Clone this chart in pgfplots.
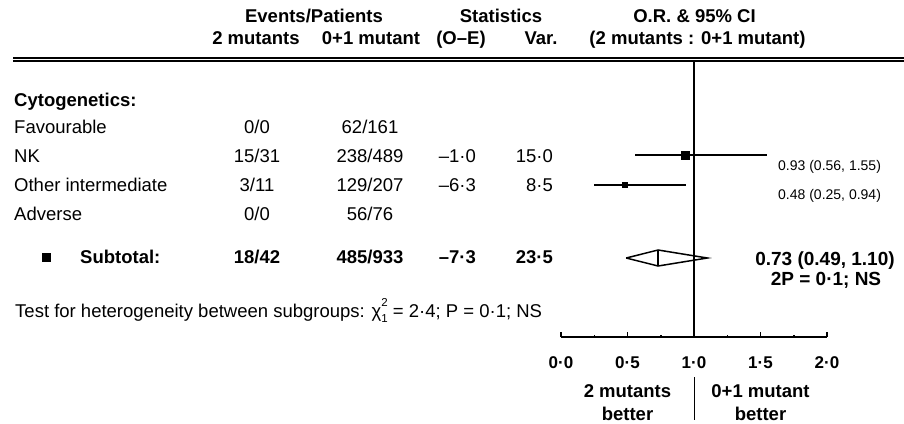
\documentclass[border=0pt]{standalone}
\usepackage{fontspec}
\setmainfont{Liberation Sans}
\usepackage{pgfplots}
\pgfplotsset{compat=1.18}

\newcommand\bodyfont{\fontsize{18.5}{22}\selectfont}
\newcommand\cifont{\fontsize{14}{16}\selectfont}
\newcommand\sumfont{\fontsize{19}{22}\selectfont\bfseries}
\newcommand\supfont{\fontsize{11.5}{12}\selectfont}

\begin{document}
\begin{tikzpicture}[
  L/.style={inner sep=0pt, anchor=base west, font=\bodyfont},
  C/.style={inner sep=0pt, anchor=base, font=\bodyfont},
  R/.style={inner sep=0pt, anchor=base east, font=\bodyfont},
  B/.style={font=\bodyfont\bfseries}]
\useasboundingbox (0pt,0pt) rectangle (904pt,-423pt);
\clip (0pt,0pt) rectangle (904pt,-423pt);

\begin{scope}[x=1pt,y=1pt]
% column headings
\node[C,B] at (314,-23) {Events/Patients};
\node[C,B] at (501,-23) {Statistics};
\node[C,B] at (694.5,-23) {O.R. \& 95\% CI};
\node[C,B] at (256,-44) {2 mutants};
\node[C,B] at (371,-44) {0+1 mutant};
\node[C,B] at (461,-44) {(O–E)};
\node[C,B] at (541,-44) {Var.};
\node[C,B] at (697.5,-44) {(2 mutants : 0+1 mutant)};
\draw[line width=2.3pt] (13,-57.8) -- (904,-57.8);
\draw[line width=1.6pt] (13,-61.2) -- (904,-61.2);

% table body
\node[L,B] at (14,-106) {Cytogenetics:};
\node[L] at (14,-133) {Favourable};
\node[L] at (14,-162) {NK};
\node[L] at (14,-191) {Other intermediate};
\node[L] at (14,-220) {Adverse};

\node[C] at (257,-133) {0/0};
\node[C] at (257,-162) {15/31};
\node[C] at (257,-191) {3/11};
\node[C] at (257,-220) {0/0};

\node[C] at (370,-133) {62/161};
\node[C] at (370,-162) {238/489};
\node[C] at (370,-191) {129/207};
\node[C] at (370,-220) {56/76};

\node[R] at (476,-162) {–1·0};
\node[R] at (476,-191) {–6·3};
\node[R] at (553,-162) {15·0};
\node[R] at (553,-191) {8·5};

\fill (42,-253) rectangle (51,-262);
\node[L,B] at (80,-263) {Subtotal:};
\node[C,B] at (257,-263) {18/42};
\node[C,B] at (370,-263) {485/933};
\node[R,B] at (476,-263) {–7·3};
\node[R,B] at (553,-263) {23·5};

\node[L] at (15,-317) {Test for heterogeneity between subgroups:
  χ\rlap{\raisebox{0.55em}{\supfont 2}}\raisebox{-0.3em}{\supfont 1} = 2·4; P = 0·1; NS};

% estimates
\node[L, font=\cifont] at (778,-170) {0.93 (0.56, 1.55)};
\node[L, font=\cifont] at (778,-199) {0.48 (0.25, 0.94)};
\node[C, font=\sumfont] at (825,-265) {0.73 (0.49, 1.10)};
\node[C, font=\sumfont] at (826,-285) {2P = 0·1; NS};
\end{scope}

% forest plot
\begin{axis}[at={(561pt,-423pt)}, anchor=south west, scale only axis,
  width=266pt, height=423pt, xmin=0, xmax=2, ymin=-423, ymax=0,
  axis lines=none, clip=false]
  % pooled diamond
  \addplot[black, line width=1.5pt, line join=miter] coordinates
    {(0.49,-258) (0.73,-250) (1.10,-258) (0.73,-266) (0.49,-258)};
  \addplot[black, line width=1.5pt] coordinates {(0.73,-250) (0.73,-266)};
  % subgroup estimates with 95% CI
  \addplot[black, only marks, mark=square*, mark size=4pt,
    error bars/.cd, x dir=both, x explicit, error mark=none,
    error bar style={line width=2pt}]
    coordinates {(0.93,-155) -= (0.37,0) += (0.62,0)};
  \addplot[black, only marks, mark=square*, mark size=2.5pt,
    error bars/.cd, x dir=both, x explicit, error mark=none,
    error bar style={line width=2pt}]
    coordinates {(0.48,-184.5) -= (0.23,0) += (0.46,0)};
  % line of no effect
  \addplot[black, line width=2pt] coordinates {(1,-61) (1,-337)};
  \addplot[black, line width=1pt] coordinates {(1,-377) (1,-420)};
  \node[C,B] at (axis cs:0.5,-397) {2 mutants};
  \node[C,B] at (axis cs:0.5,-420.5) {better};
  \node[C,B] at (axis cs:1.5,-397) {0+1 mutant};
  \node[C,B] at (axis cs:1.5,-420.5) {better};
\end{axis}

% odds-ratio scale
\begin{axis}[at={(561pt,-337pt)}, anchor=south west, scale only axis,
  width=266pt, height=10pt, xmin=0, xmax=2, ymin=0, ymax=1,
  axis x line=bottom, axis y line=none,
  axis line style={-, line width=2pt},
  xtick={0,0.5,1,1.5,2}, xticklabels={0·0,0·5,1·0,1·5,2·0},
  minor x tick num=1, tick align=inside,
  major tick length=5pt, minor tick length=2.5pt,
  tick style={black, line width=1.5pt},
  xticklabel style={font=\fontsize{17}{20}\selectfont\bfseries,
    anchor=base, inner sep=0pt, yshift=-31pt}]
\end{axis}
\end{tikzpicture}
\end{document}
